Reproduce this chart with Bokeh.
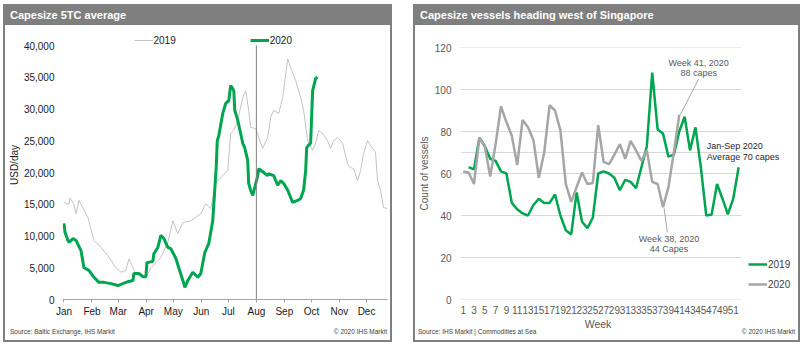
import pandas as pd
from bokeh.plotting import figure
from bokeh.models import (Legend, LegendItem, FixedTicker, DatetimeTickFormatter, Label,
                          Div, Spacer, NumeralTickFormatter, Range1d)
from bokeh.layouts import row, column
from bokeh.embed import file_html
from bokeh.resources import INLINE

FONT = "Liberation Sans"

# ---------------- Left chart: Capesize 5TC average (USD/day) ----------------
# x = day of year (placed on a common calendar), y = USD/day
day_2019 = [0, 5.5, 6.6, 11, 13.3, 16.6, 26.5, 33.2, 40.9, 48.6, 57.5, 63, 68.5, 71.9, 76.3, 79.6,
            90.7, 96.2, 107.2, 115, 120.5, 126, 131.6, 140.4, 151.5, 157, 162.5, 168, 173.6, 181.3,
            184.6, 188, 192.4, 197.9, 201.2, 204.5, 206.7, 212.3, 217.8, 220, 225.5, 228.9, 232.2,
            237.7, 242.2, 247.7, 251, 256.5, 262, 265.3, 269.8, 275.3, 278.6, 282, 286.4, 291.9,
            295.2, 298.5, 303, 308.5, 314, 317.3, 320.6, 325, 328.4, 331.7, 336.1, 341.6, 344.9,
            347.2, 350.5, 353.8, 358.2]
usd_2019 = [15300, 15000, 16000, 15000, 13500, 15600, 12900, 9300, 8200, 6900, 5000, 4300, 4600, 6400,
            5000, 4100, 3500, 5000, 6600, 9000, 12400, 10400, 12100, 12400, 13500, 15100, 14300, 18300,
            19200, 20300, 26100, 26600, 28200, 31800, 32900, 29800, 27100, 26900, 24600, 23800, 25500,
            28700, 29800, 29300, 31800, 37900, 36500, 34500, 31800, 29800, 25000, 23500, 24600, 26600,
            26100, 25000, 23800, 25000, 25500, 24600, 21400, 20800, 20600, 18700, 20300, 23000, 25000,
            23800, 23200, 18700, 17200, 14500, 14300]

day_2020 = [0, 1.1, 4.4, 5.5, 10, 13.3, 18.8, 22.1, 27.6, 33.2, 38.7, 44.2, 52, 59.7, 65.2, 70.8, 76.3,
            77.4, 82.9, 87.3, 90.7, 91.8, 98.4, 99.5, 103.9, 107.2, 110.6, 115, 118.3, 123.8, 127.1,
            131.6, 133.8, 137.1, 142.6, 148.2, 151.5, 155.9, 160.3, 164.7, 166.9, 168.6, 169.7, 171.4,
            175.8, 179.1, 182.4, 184.6, 188, 189.1, 192.4, 195.7, 197.9, 200.1, 203.4, 204.5, 206.7,
            209, 211.2, 214.5, 215.6, 221.1, 225.5, 226.6, 232.2, 236.6, 239.9, 243.2, 247.7, 253.2,
            258.7, 262, 265.3, 267.6, 268.7, 270.9, 273.1, 275.3, 278.6, 280.8]
usd_2020 = [12000, 10600, 9300, 9000, 9600, 9300, 7700, 5000, 4600, 3500, 2700, 2700, 2500, 2200, 2500,
            2800, 3000, 4100, 4100, 3600, 3600, 5800, 6000, 7200, 8200, 10100, 9600, 8200, 8000, 6500,
            5000, 3000, 1900, 3000, 4300, 3500, 4100, 7400, 8800, 12400, 17200, 21000, 25000, 25800,
            29300, 30900, 31300, 33700, 32900, 29800, 28200, 26100, 24600, 23900, 21900, 18300, 17200,
            16400, 17600, 19500, 20600, 20000, 19500, 19800, 19500, 18000, 18700, 18300, 17200, 15300,
            15600, 15900, 17200, 20300, 23900, 24300, 24600, 32900, 34800, 35000]

month_names = ["Jan", "Feb", "Mar", "Apr", "May", "Jun", "Jul", "Aug", "Sep", "Oct", "Nov", "Dec"]
month_start_day = [0, 31, 60, 91, 121, 152, 182, 213, 244, 274, 305, 335]
usd_ticks = [0, 5000, 10000, 15000, 20000, 25000, 30000, 35000, 40000]
marker_day = 213  # 1 Aug

# ---------------- Right chart: Capesize vessels heading west of Singapore ----------------
weeks_2019 = list(range(2, 53))
count_2019 = [63, 62, 77, 73, 67, 66, 61, 60, 46, 43, 41, 40, 45, 48, 46, 46, 50, 40, 33, 31, 51, 37,
              34, 39, 60, 61, 60, 58, 52, 57, 56, 53, 63, 73, 108, 81, 79, 68, 69, 80, 87, 71, 82, 63,
              40, 40.5, 55, 48, 40.5, 48, 63]
weeks_2020 = list(range(1, 42))
count_2020 = [61, 60.5, 55, 77, 73, 58.5, 74, 92, 84.5, 78, 64, 85.5, 82, 76, 58, 70, 92.5, 90, 80.5,
              55, 46.5, 53.5, 60.5, 55, 55.5, 83, 65.5, 64.5, 69, 74, 67, 75.5, 71, 66, 71, 56, 55,
              44, 53.5, 70, 88]
week_ticks = list(range(1, 52, 2))
count_ticks = [0, 20, 40, 60, 80, 100, 120]
avg_2020 = 70

GREEN = "#00a550"
BASE = pd.Timestamp("2020-01-01")


def to_dt(days):
    return [BASE + pd.Timedelta(days=d) for d in days]


def ms(d):
    return (BASE + pd.Timedelta(days=d)).value / 1e6


def no_ticks(ax):
    ax.major_tick_line_color = None
    ax.minor_tick_line_color = None
    ax.major_tick_in = 0
    ax.major_tick_out = 0
    ax.minor_tick_in = 0
    ax.minor_tick_out = 0


# ---------------- Left figure ----------------
pL = figure(width=385, height=299, x_axis_type="datetime", output_backend="svg", toolbar_location=None,
            x_range=Range1d(ms(-1.66), ms(358.2)), y_range=Range1d(0, 40000 * 269 / 254),
            min_border_left=57, min_border_right=3, min_border_top=5, min_border_bottom=25, margin=0)
pL.outline_line_color = None
pL.xgrid.visible = False
pL.ygrid.visible = False

l19 = pL.line(to_dt(day_2019), usd_2019, line_color="#c3c3c3", line_width=1)
l20 = pL.line(to_dt(day_2020), usd_2020, line_color=GREEN, line_width=3)
pL.segment(x0=[ms(marker_day)], y0=[usd_ticks[0]], x1=[ms(marker_day)], y1=[usd_ticks[-1]],
           line_color="#808080", line_width=1)

yl = pL.yaxis[0]
yl.ticker = FixedTicker(ticks=usd_ticks)
yl.formatter = NumeralTickFormatter(format="0,0")
yl.axis_line_color = None
no_ticks(yl)
yl.major_label_text_font = FONT
yl.major_label_text_font_size = "10px"
yl.major_label_text_color = "#1a1a1a"
yl.major_label_standoff = 8
yl.axis_label = "USD/day"
yl.axis_label_text_font = FONT
yl.axis_label_text_font_size = "10px"
yl.axis_label_text_font_style = "normal"
yl.axis_label_text_color = "#1a1a1a"
yl.axis_label_standoff = 1

xl = pL.xaxis[0]
xl.ticker = FixedTicker(ticks=[ms(d) for d in month_start_day])
xl.formatter = DatetimeTickFormatter(days="%b", months="%b", years="%b")
xl.axis_line_color = "#a6a6a6"
xl.major_tick_line_color = "#a6a6a6"
xl.major_tick_in = 0
xl.major_tick_out = 3
xl.minor_tick_line_color = None
xl.minor_tick_in = 0
xl.minor_tick_out = 0
xl.major_label_text_font = FONT
xl.major_label_text_font_size = "10px"
xl.major_label_text_color = "#1a1a1a"
xl.major_label_standoff = 3

legL = Legend(items=[LegendItem(label="2019", renderers=[l19]), LegendItem(label="2020", renderers=[l20])],
              orientation="horizontal", location=(71.5, 249), padding=0, margin=0, spacing=74,
              glyph_width=19, label_standoff=1, border_line_color=None, background_fill_alpha=0,
              label_text_font=FONT, label_text_font_size="10px", label_text_color="#1a1a1a")
pL.add_layout(legL)

# ---------------- Right figure ----------------
px_per_week = 285 / 52.0
pR = figure(width=383, height=293, output_backend="svg", toolbar_location=None,
            x_range=Range1d(0.5, 52.5 + 58 / px_per_week), y_range=Range1d(0, 120),
            min_border_left=40, min_border_right=0, min_border_top=22, min_border_bottom=19, margin=0)
pR.outline_line_color = None
pR.xgrid.visible = False
pR.ygrid.visible = False
gx0, gx1 = 0.5, max(weeks_2019) + 0.5
pR.segment(x0=[gx0] * len(count_ticks), y0=count_ticks, x1=[gx1] * len(count_ticks), y1=count_ticks,
           line_color="#d9d9d9", line_width=1)
pR.segment(x0=[gx0], y0=[avg_2020], x1=[gx1], y1=[avg_2020], line_color="#d9d9d9", line_width=1)

r19 = pR.line(weeks_2019, count_2019, line_color=GREEN, line_width=2.5)
r20 = pR.line(weeks_2020, count_2020, line_color="#a6a6a6", line_width=2.5)

yr = pR.yaxis[0]
yr.ticker = FixedTicker(ticks=count_ticks)
yr.axis_line_color = None
no_ticks(yr)
yr.major_label_text_font = FONT
yr.major_label_text_font_size = "10px"
yr.major_label_text_color = "#595959"
yr.major_label_standoff = 9
yr.axis_label = "Count of vessels"
yr.axis_label_text_font = FONT
yr.axis_label_text_font_size = "10px"
yr.axis_label_text_font_style = "normal"
yr.axis_label_text_color = "#595959"
yr.axis_label_standoff = 2

xr = pR.xaxis[0]
xr.ticker = FixedTicker(ticks=week_ticks)
xr.axis_line_color = None
no_ticks(xr)
xr.major_label_text_font = FONT
xr.major_label_text_font_size = "10px"
xr.major_label_text_color = "#595959"
xr.major_label_standoff = 6

legR = Legend(items=[LegendItem(label="2019", renderers=[r19]), LegendItem(label="2020", renderers=[r20])],
              orientation="vertical", location=(288, 5), padding=0, margin=0, spacing=0,
              glyph_width=19, label_standoff=1, border_line_color=None, background_fill_alpha=0,
              label_text_font=FONT, label_text_font_size="10px", label_text_color="#404040")
pR.add_layout(legR)

# annotations
wk41, v41 = weeks_2020[-1], count_2020[-1]
wk38 = 38
v38 = count_2020[weeks_2020.index(wk38)]
ann_color = "#595959"
pR.line([wk41 + 0.2, 44.6], [v41, 105], line_color="#a6a6a6", line_width=1)
pR.line([wk38 + 0.2, 38.8], [v38 - 0.6, 32], line_color="#a6a6a6", line_width=1)
for txt, x, y, col in [("Week 41, 2020", 44.6, 112.4, ann_color), ("88 capes", 44.6, 107.9, ann_color),
                       ("Week 38, 2020", 39.1, 28.9, ann_color), ("44 Capes", 39.1, 24.2, ann_color)]:
    pR.add_layout(Label(x=x, y=y, text=txt, text_font=FONT, text_font_size="9px", text_color=col,
                        text_align="center", text_baseline="middle"))
for txt, y in [("Jan-Sep 2020", 73.1), ("Average 70 capes", 67.9)]:
    pR.add_layout(Label(x=46.1, y=y, text=txt, text_font=FONT, text_font_size="9px", text_color="#262626",
                        text_align="left", text_baseline="middle"))


def title_div(text, w):
    return Div(text=text, width=w, height=19, margin=0,
               styles={"background-color": "#7f7f7f", "color": "#ffffff", "font-family": FONT,
                       "font-weight": "bold", "font-size": "11px", "line-height": "19px",
                       "padding-left": "5px", "box-sizing": "border-box", "overflow": "hidden"})


def abs_span(text, left=None, right=None, top=0, size="6.5px", color="#404040", width=None, center=False):
    st = "position:absolute;top:%dpx;white-space:nowrap;font-size:%s;color:%s;line-height:1;" % (top, size, color)
    if left is not None:
        st += "left:%dpx;" % left
    if right is not None:
        st += "right:%dpx;" % right
    if width is not None:
        st += "width:%dpx;" % width
    if center:
        st += "text-align:center;"
    return '<div style="%s">%s</div>' % (st, text)


def bottom_div(w, h, parts):
    inner = "".join(parts)
    return Div(text='<div style="position:relative;width:%dpx;height:%dpx;font-family:%s;">%s</div>'
               % (w, h, FONT, inner), width=w, height=h, margin=0,
               styles={"background-color": "#ffffff", "overflow": "hidden"})


botL = bottom_div(385, 16, [abs_span("Source: Baltic Exchange, IHS Markit", left=5, top=5),
                            abs_span("© 2020 IHS Markit", right=3, top=5)])
botR = bottom_div(383, 22, [abs_span("Week", left=0, width=366, center=True, top=1, size="10.5px",
                                     color="#595959"),
                            abs_span("Source: IHS Markit | Commodities at Sea", left=3, top=11),
                            abs_span("© 2020 IHS Markit", right=3, top=11)])

panelL = column(title_div("Capesize 5TC average", 385), pL, botL, spacing=0,
                styles={"border": "2px solid #7f7f7f", "background-color": "#ffffff"})
panelR = column(title_div("Capesize vessels heading west of Singapore", 383), pR, botR, spacing=0,
                styles={"border": "2px solid #7f7f7f", "background-color": "#ffffff"})

layout = column(Spacer(height=4), row(Spacer(width=3), panelL, Spacer(width=21), panelR, spacing=0),
                spacing=0, styles={"position": "absolute", "left": "0px", "top": "0px"})

open("out.html", "w").write(file_html(layout, INLINE))
